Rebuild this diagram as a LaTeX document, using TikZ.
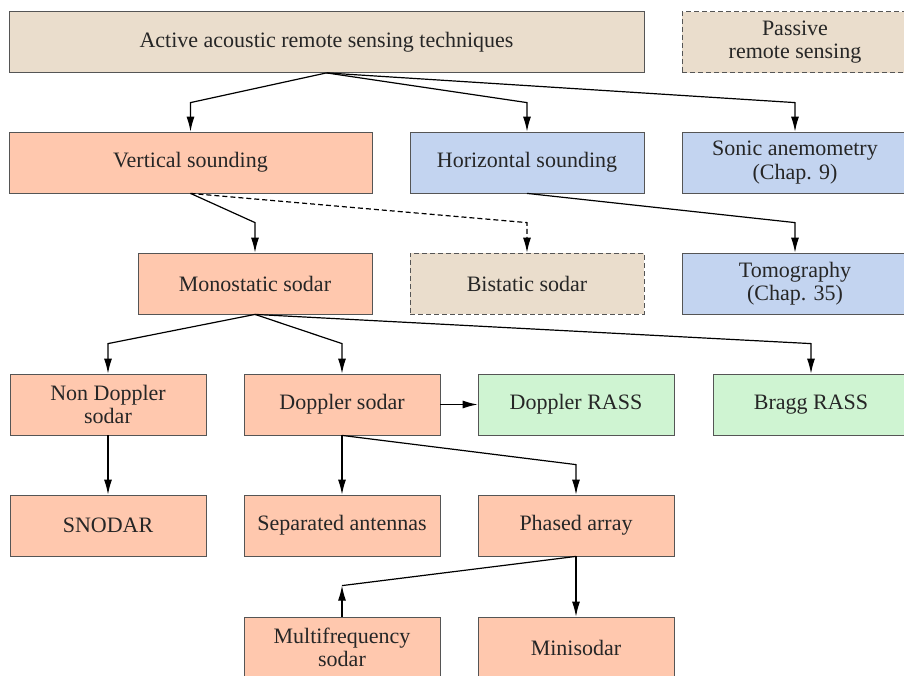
\documentclass[tikz,border=0pt]{standalone}
\usepackage{fontspec}
\setmainfont{Liberation Serif}
\usetikzlibrary{arrows.meta,positioning}
\definecolor{beige}{RGB}{234,221,204}
\definecolor{salmon}{RGB}{255,200,174}
\definecolor{paleblue}{RGB}{195,212,240}
\definecolor{palegreen}{RGB}{207,244,210}
\definecolor{boxline}{RGB}{85,85,85}

\begin{document}
\begin{tikzpicture}[x=1pt,y=-1pt,>={Latex[length=15pt,width=8pt]},
line width=1.2pt,
box/.style={draw=boxline,line width=0.8pt,minimum height=61pt,inner sep=0pt,
    align=center,text=black!85,font=\fontsize{22}{23.5}\selectfont},
nbox/.style={box,minimum width=196pt},
wbox/.style={box,minimum width=234pt},
sodar/.style={fill=salmon},
horiz/.style={fill=paleblue},
rass/.style={fill=palegreen},
other/.style={fill=beige},
passive/.style={other,dash pattern=on 5pt off 3pt}]
\useasboundingbox[fill=white] (0,0) rectangle (904,675);

% top row
\node[box,other,minimum width=635pt] (act) at (326.5,42) {Active acoustic remote sensing techniques};
\node[box,passive,minimum width=226pt] (pas) at (795,42) {Passive\\remote sensing};
% second row
\node[box,sodar,minimum width=363pt] (vert) at (190.5,162.5) {Vertical sounding};
\node[wbox,horiz] (hor) at (527,162.5) {Horizontal sounding};
\node[box,horiz,minimum width=226pt] (son) at (795,162.5) {Sonic anemometry\\(Chap. 9)};
% third row
\node[wbox,sodar] (mono) at (255,283.5) {Monostatic sodar};
\node[wbox,passive] (bis) at (527,283.5) {Bistatic sodar};
\node[box,horiz,minimum width=226pt] (tom) at (795,283.5) {Tomography\\(Chap. 35)};
% fourth row
\node[nbox,sodar] (nond) at (108,404.5) {Non Doppler\\sodar};
\node[nbox,sodar] (dop) at (342,404.5) {Doppler sodar};
\node[nbox,rass] (drass) at (576,404.5) {Doppler RASS};
\node[nbox,rass] (brass) at (811,404.5) {Bragg RASS};
% fifth row
\node[nbox,sodar] (snod) at (108,525.5) {SNODAR};
\node[nbox,sodar] (sep) at (342,525.5) {Separated antennas};
\node[nbox,sodar] (phas) at (576,525.5) {Phased array};
% sixth row
\node[nbox,sodar] (multi) at (342,647.5) {Multifrequency\\sodar};
\node[nbox,sodar] (mini) at (576,647.5) {Minisodar};

\draw[->] (act.south) -- ([yshift=29pt]vert.north) -- (vert.north);
\draw[->] (act.south) -- ([yshift=29pt]hor.north) -- (hor.north);
\draw[->] (act.south) -- ([yshift=29pt]son.north) -- (son.north);
\draw[->] (vert.south) -- ([yshift=30pt]mono.north) -- (mono.north);
\draw[->,dash pattern=on 5pt off 3pt] (vert.south) -- ([yshift=30pt]bis.north) -- (bis.north);
\draw[->] (hor.south) -- ([yshift=30pt]tom.north) -- (tom.north);
\draw[->] (mono.south) -- ([yshift=30pt]nond.north) -- (nond.north);
\draw[->] (mono.south) -- ([yshift=30pt]dop.north) -- (dop.north);
\draw[->] (mono.south) -- ([yshift=30pt]brass.north) -- (brass.north);
\draw[->] (nond) -- (snod);
\draw[->] (dop) -- (sep);
\draw[->] (dop.south) -- ([yshift=30pt]phas.north) -- (phas.north);
\draw[->] (dop) -- (drass);
\draw[->] (phas) -- (mini);
\draw (phas.south) -- ([yshift=31pt]multi.north) edge[<-] (multi.north);
\end{tikzpicture}
\end{document}
